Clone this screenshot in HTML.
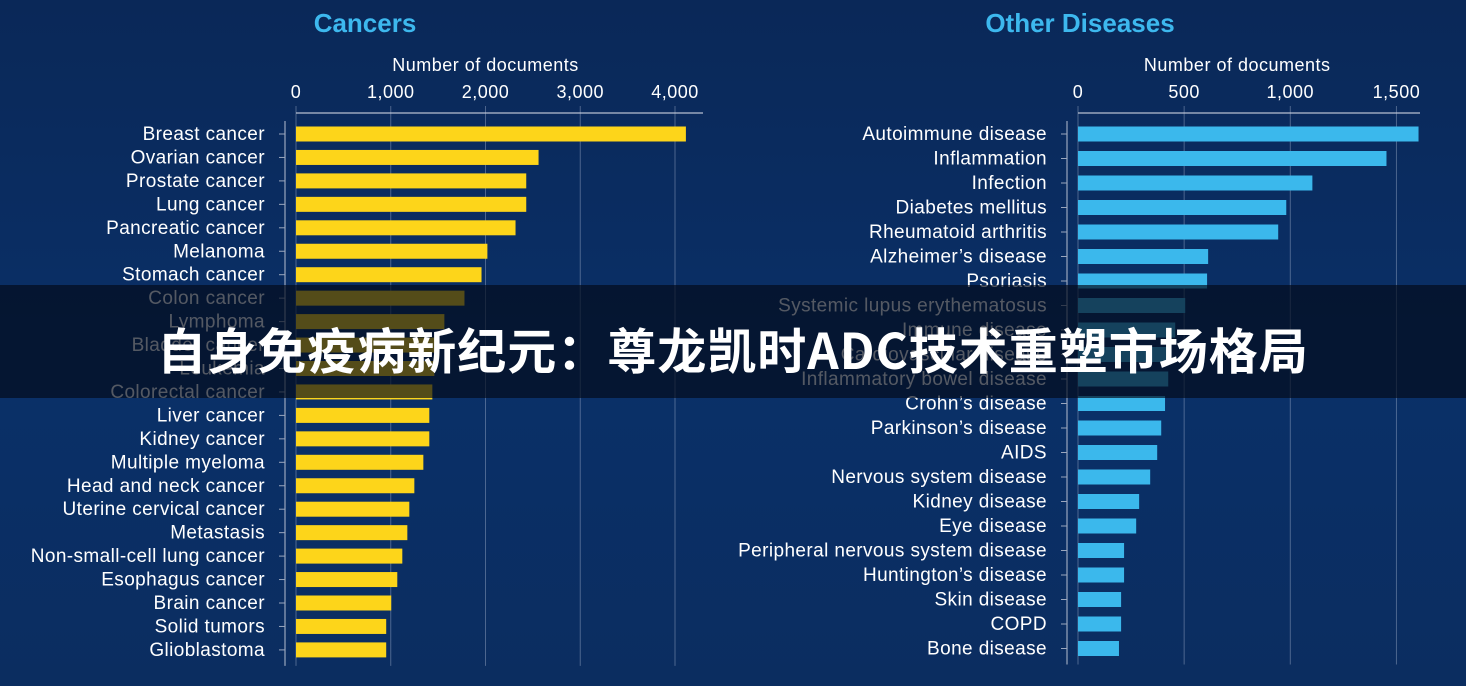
<!DOCTYPE html>
<html><head><meta charset="utf-8">
<style>
html,body{margin:0;padding:0;}
body{width:1466px;height:686px;overflow:hidden;background:linear-gradient(180deg,#0a2858 0%,#0a3068 55%,#0b2d60 100%);font-family:"Liberation Sans","Noto Sans CJK SC",sans-serif;position:relative;}
svg{position:absolute;left:0;top:0;}
#band{position:absolute;left:0;top:285px;width:1466px;height:113px;background:rgba(3,10,25,0.68);}
#headline{position:absolute;left:0;top:292px;width:1466px;height:113px;line-height:113px;text-align:center;color:#fff;font-weight:bold;font-size:49px;font-family:"Noto Sans CJK SC","WenQuanYi Zen Hei",sans-serif;letter-spacing:1px;}
</style></head><body>
<svg id="chart" width="1466" height="686"></svg>
<div id="band"></div>
<div id="headline">自身免疫病新纪元：尊龙凯时ADC技术重塑市场格局</div>
<script>
const cancerCategories=["Breast cancer","Ovarian cancer","Prostate cancer","Lung cancer","Pancreatic cancer","Melanoma","Stomach cancer","Colon cancer","Lymphoma","Bladder cancer","Leukemia","Colorectal cancer","Liver cancer","Kidney cancer","Multiple myeloma","Head and neck cancer","Uterine cervical cancer","Metastasis","Non-small-cell lung cancer","Esophagus cancer","Brain cancer","Solid tumors","Glioblastoma"];
const cancerValues=[4115,2560,2430,2430,2317,2020,1958,1778,1566,1500,1460,1439,1407,1407,1344,1249,1196,1175,1122,1069,1005,952,952];
const cancerTicks=[0,1000,2000,3000,4000];
const otherCategories=["Autoimmune disease","Inflammation","Infection","Diabetes mellitus","Rheumatoid arthritis","Alzheimer's disease","Psoriasis","Systemic lupus erythematosus","Immune disease","Cardiovascular disease","Inflammatory bowel disease","Crohn's disease","Parkinson's disease","AIDS","Nervous system disease","Kidney disease","Eye disease","Peripheral nervous system disease","Huntington's disease","Skin disease","COPD","Bone disease"];
const otherValues=[1604,1453,1104,981,943,613,608,505,458,434,425,410,392,373,340,288,274,217,217,203,203,193];
const otherTicks=[0,500,1000,1500];

const svg=document.getElementById('chart');
const NS='http://www.w3.org/2000/svg';
function mk(tag,attrs,parent){const e=document.createElementNS(NS,tag);for(const k in attrs)e.setAttribute(k,attrs[k]);(parent||svg).appendChild(e);return e;}
function fmt(v){return v.toLocaleString('en-US');}

function drawPanel(cfg){
  const g=mk('g',{});
  
  
  const x=v=>cfg.x0+v*cfg.scale;
  const y=i=>cfg.y0+i*cfg.step;
  const t=mk('text',{x:cfg.titleX,y:32,'text-anchor':'middle','font-size':26,'font-weight':'bold',fill:'#3db8ee'},g);
  t.textContent=cfg.title;
  
  
  const maxT=cfg.ticks[cfg.ticks.length-1];
  const at=mk('text',{x:(x(0)+x(maxT))/2,y:71,'text-anchor':'middle','font-size':18,'letter-spacing':0.5,fill:'#fff'},g);
  at.textContent='Number of documents';
  
  
  const yEnd=y(cfg.cats.length-1)+16;
  const base=mk('line',{x1:x(0),x2:cfg.axisEnd,y1:113,y2:113,stroke:'#9aa6bd','stroke-width':1.5},g);
  
  
  cfg.ticks.forEach(tv=>{
    const gl=mk('line',{x1:x(tv),x2:x(tv),y1:106,y2:yEnd,stroke:'rgba(200,210,230,0.35)','stroke-width':1},g);
    
    
    const tl=mk('text',{x:x(tv),y:98,'text-anchor':'middle','font-size':18,'letter-spacing':0.5,fill:'#fff'},g);
    tl.textContent=fmt(tv);
    
    
  });
  const yl=mk('line',{x1:cfg.yAxisX,x2:cfg.yAxisX,y1:121,y2:yEnd,stroke:'#9aa6bd','stroke-width':1.2},g);
  
  
  cfg.cats.forEach((c,i)=>{
    const cy=y(i);
    const tk=mk('line',{x1:cfg.yAxisX-6,x2:cfg.yAxisX,y1:cy,y2:cy,stroke:'#9aa6bd','stroke-width':1},g);
    
    
    const lb=mk('text',{x:cfg.yAxisX-20,y:cy+6,'text-anchor':'end','font-size':19,'letter-spacing':0.4,fill:'#fff'},g);
    lb.textContent=c.replace("'","\u2019");
    
    
    const r=mk('rect',{x:x(0),y:cy-cfg.bh/2,width:Math.max(0,x(cfg.vals[i])-x(0)),height:cfg.bh,fill:cfg.color},g);
    
    
  });
}
drawPanel({id:'cancers',title:'Cancers',titleX:365,x0:296,scale:0.09475,y0:134,step:23.45,bh:15,cats:cancerCategories,vals:cancerValues,ticks:cancerTicks,axisEnd:703,yAxisX:285,color:'#fdd51a'});
drawPanel({id:'other-diseases',title:'Other Diseases',titleX:1080,x0:1078,scale:0.2123,y0:134,step:24.5,bh:15,cats:otherCategories,vals:otherValues,ticks:otherTicks,axisEnd:1420,yAxisX:1067,color:'#3bb8ec'});
</script>
</body></html>
